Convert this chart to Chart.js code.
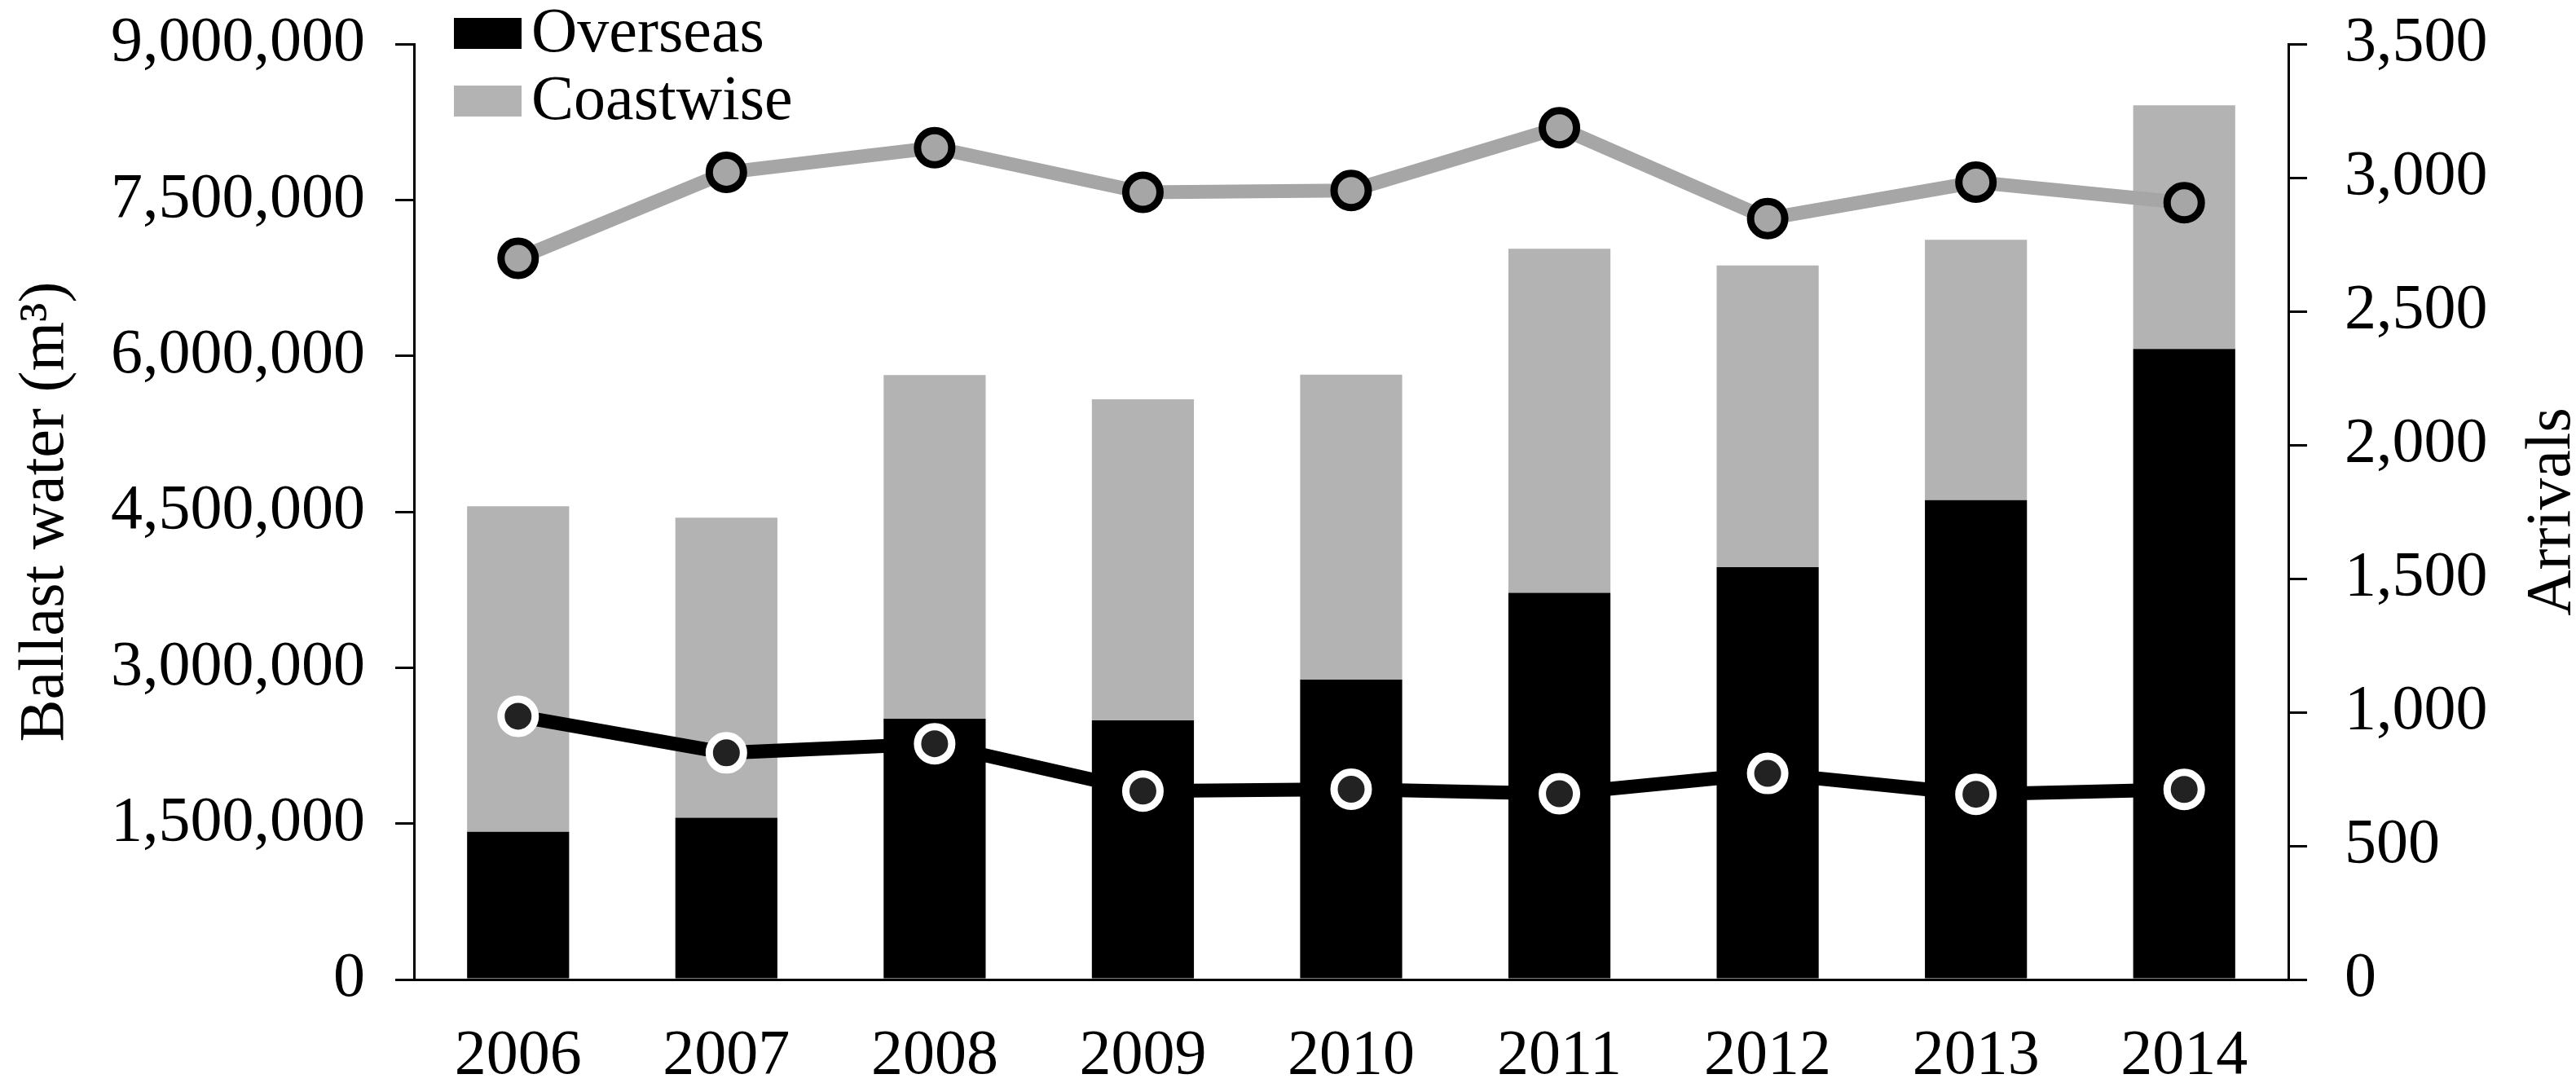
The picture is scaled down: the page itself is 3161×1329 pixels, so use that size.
<!DOCTYPE html>
<html>
<head>
<meta charset="utf-8">
<title>Ballast water and arrivals</title>
<script src="https://cdn.jsdelivr.net/npm/chart.js@4"></script>
<style>
  html, body { margin: 0; padding: 0; background: #fff; }
  #wrap { width: 3161px; height: 1329px; position: relative; }
</style>
</head>
<body>
<div id="wrap"><canvas id="ballastChart"></canvas></div>
<script>
const years = ["2006", "2007", "2008", "2009", "2010", "2011", "2012", "2013", "2014"];

// ballast water discharged (m3), stacked bars
const overseasBallast = [1421000, 1556000, 2508000, 2493000, 2885000, 3720000, 3967000, 4611000, 6066000];
const coastwiseBallast = [3132000, 2888000, 3307000, 3088000, 2935000, 3310000, 2903000, 2505000, 2344000];

// vessel arrivals, right axis
const overseasArrivals = [985, 848, 882, 705, 712, 695, 771, 693, 711];
const coastwiseArrivals = [2698, 3020, 3112, 2945, 2952, 3187, 2847, 2983, 2906];

const leftTicks = [0, 1500000, 3000000, 4500000, 6000000, 7500000, 9000000];
const rightTicks = [0, 500, 1000, 1500, 2000, 2500, 3000, 3500];

const FONT = "Liberation Serif";
const FONT_SIZE = 78;

Chart.defaults.font.family = FONT;
Chart.defaults.font.size = FONT_SIZE;
Chart.defaults.color = "#000";

function withCommas(value) {
  return value.toString().replace(/\B(?=(\d{3})+(?!\d))/g, ",");
}

// fixed box sizes so the plot area sits where the original one does
function fixWidth(width) {
  return function (scale) {
    scale.width = width;
    scale.paddingTop = 0;
    scale.paddingBottom = 0;
  };
}

// axis titles, both read bottom to top
const axisTitles = {
  id: "axisTitles",
  afterDraw(chart) {
    const ctx = chart.ctx;
    const mid = (chart.chartArea.top + chart.chartArea.bottom) / 2;
    ctx.save();
    ctx.fillStyle = "#000";
    ctx.font = FONT_SIZE + "px '" + FONT + "'";
    ctx.textAlign = "center";
    ctx.textBaseline = "alphabetic";

    ctx.save();
    ctx.translate(77, mid);
    ctx.rotate(-Math.PI / 2);
    ctx.fillText("Ballast water (m\u00B3)", 0, 0);
    ctx.restore();

    ctx.save();
    ctx.translate(3153, mid);
    ctx.rotate(-Math.PI / 2);
    ctx.fillText("Arrivals", 0, 0);
    ctx.restore();

    ctx.restore();
  }
};

// square legend for the two bar series, top left
const boxLegend = {
  id: "boxLegend",
  afterDraw(chart) {
    const ctx = chart.ctx;
    const bars = chart.data.datasets.filter(d => d.type === "bar");
    const left = chart.chartArea.left + 49;
    ctx.save();
    ctx.font = FONT_SIZE + "px '" + FONT + "'";
    ctx.textAlign = "left";
    ctx.textBaseline = "middle";
    bars.forEach((ds, i) => {
      const top = 22 + i * 83;
      ctx.fillStyle = ds.backgroundColor;
      ctx.fillRect(left, top, 83, 38);
      ctx.fillStyle = "#000";
      ctx.fillText(ds.label, left + 95, top + 21);
    });
    ctx.restore();
  }
};

const ctx = document.getElementById("ballastChart").getContext("2d");

new Chart(ctx, {
  data: {
    labels: years,
    datasets: [
      {
        type: "line",
        label: "Overseas arrivals",
        data: overseasArrivals,
        yAxisID: "y1",
        order: 0,
        borderColor: "#000",
        borderWidth: 17,
        tension: 0,
        pointRadius: 21,
        pointBackgroundColor: "#222",
        pointBorderColor: "#fff",
        pointBorderWidth: 9
      },
      {
        type: "line",
        label: "Coastwise arrivals",
        data: coastwiseArrivals,
        yAxisID: "y1",
        order: 0,
        borderColor: "#a6a6a6",
        borderWidth: 17,
        tension: 0,
        pointRadius: 21,
        pointBackgroundColor: "#a6a6a6",
        pointBorderColor: "#000",
        pointBorderWidth: 9
      },
      {
        type: "bar",
        label: "Overseas",
        data: overseasBallast,
        yAxisID: "y",
        stack: "ballast",
        order: 1,
        backgroundColor: "#000",
        categoryPercentage: 1,
        barPercentage: 0.49
      },
      {
        type: "bar",
        label: "Coastwise",
        data: coastwiseBallast,
        yAxisID: "y",
        stack: "ballast",
        order: 1,
        backgroundColor: "#b3b3b3",
        categoryPercentage: 1,
        barPercentage: 0.49
      }
    ]
  },
  options: {
    responsive: true,
    maintainAspectRatio: false,
    animation: false,
    layout: {
      padding: { top: 54, left: 0, right: 0, bottom: 0 }
    },
    plugins: {
      legend: { display: false },
      tooltip: { enabled: false }
    },
    scales: {
      x: {
        stacked: true,
        grid: { display: false },
        border: { display: true, color: "#000", width: 3 },
        ticks: { padding: 40, color: "#000" },
        afterFit(scale) { scale.height = 127; }
      },
      y: {
        position: "left",
        stacked: true,
        min: 0,
        max: leftTicks[leftTicks.length - 1],
        afterBuildTicks(scale) { scale.ticks = leftTicks.map(v => ({ value: v })); },
        grid: {
          drawOnChartArea: false,
          drawTicks: true,
          tickLength: 23,
          tickColor: "#000",
          lineWidth: 3
        },
        border: { display: true, color: "#000", width: 3 },
        ticks: {
          padding: 37,
          color: "#000",
          callback: value => withCommas(value)
        },
        afterFit: fixWidth(508)
      },
      y1: {
        position: "right",
        min: 0,
        max: rightTicks[rightTicks.length - 1],
        afterBuildTicks(scale) { scale.ticks = rightTicks.map(v => ({ value: v })); },
        grid: {
          drawOnChartArea: false,
          drawTicks: true,
          tickLength: 23,
          tickColor: "#000",
          lineWidth: 3
        },
        border: { display: true, color: "#000", width: 3 },
        ticks: {
          padding: 46,
          color: "#000",
          callback: value => withCommas(value)
        },
        afterFit: fixWidth(353)
      }
    }
  },
  plugins: [axisTitles, boxLegend]
});
</script>
</body>
</html>
